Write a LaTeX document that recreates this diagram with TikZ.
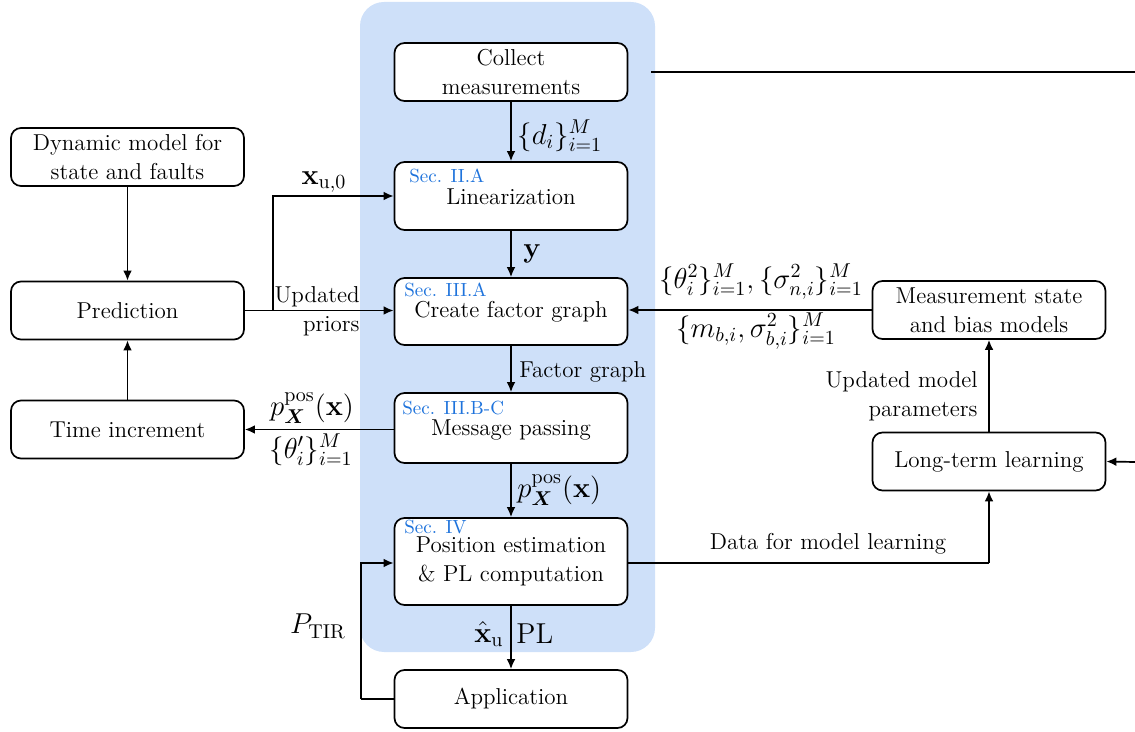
\documentclass[tikz,border=0pt]{standalone}
\usepackage{amsmath}
\usetikzlibrary{arrows.meta,calc}
\definecolor{panel}{RGB}{206,224,249}
\definecolor{secblue}{RGB}{30,115,220}
\begin{document}
\begin{tikzpicture}[x=0.5pt,y=-0.5pt,
  box/.style={draw, rounded corners=5pt, fill=white, minimum width=116.5pt, minimum height=29pt, align=center, line width=0.85pt, inner sep=1pt, font=\fontsize{11.5}{14.5}\selectfont},
  sec/.style={anchor=west, text=secblue, inner sep=0pt, font=\fontsize{9.5}{10}\selectfont},
  lbl/.style={inner sep=1pt, font=\fontsize{11.5}{14.5}\selectfont},
  mlbl/.style={inner sep=0.5pt, font=\fontsize{14}{16}\selectfont},
  arr/.style={line width=0.85pt, -{Latex[length=5pt,width=4.4pt]}},
  ln/.style={line width=0.85pt}]
\useasboundingbox (0,0) rectangle (1135,732);
\fill[panel, rounded corners=12pt] (360,2) rectangle (655,652);

% centre column
\node[box] (col) at (511,72) {Collect\\measurements};
\node[box, minimum height=34pt] (lin) at (511,196) {\\[-6pt]Linearization};
\node[box, minimum height=33.5pt] (cfg) at (511,311.5) {\\[-6pt]Create factor graph};
\node[box, minimum height=35pt] (mp) at (511,428) {\\[-5pt]Message passing};
\node[box, minimum height=43.5pt] (pe) at (511,561.5) {Position estimation\\\& PL computation};
\node[box] (app) at (511,699) {Application};

\node[sec] (s1) at (409,176) {Sec. II.A};
\node[sec] (s2) at (404,290) {Sec. III.A};
\node[sec] (s3) at (402,408) {Sec. III.B-C};
\node[sec] (s4) at (404,527) {Sec. IV};

% left column
\node[box] (dyn) at (127.5,157) {Dynamic model for\\state and faults};
\node[box] (pred) at (127.5,310.5) {Prediction};
\node[box] (time) at (127.5,429.5) {Time increment};

% right column
\node[box] (meas) at (989,310) {Measurement state\\and bias models};
\node[box] (ltl) at (989,461.5) {Long-term learning};

% vertical flow
\draw[arr] (col) -- (lin);
\draw[arr] (lin) -- (cfg);
\draw[arr] (cfg) -- (mp);
\draw[arr] (mp) -- (pe);
\draw[arr] (pe) -- (app);
\node[mlbl, anchor=west] (l1) at (516,136) {$\{d_i\}_{i=1}^{M}$};
\node[mlbl, anchor=west] (l2) at (522,254) {$\mathbf{y}$};
\node[lbl, anchor=west] (l3) at (517,372) {Factor graph};
\node[mlbl, anchor=west] (l4) at (516,490) {$p_{\boldsymbol{X}}^{\mathrm{pos}}(\mathbf{x})$};
\node[mlbl, anchor=east] (l5) at (505,634) {$\hat{\mathbf{x}}_{\mathrm{u}}$};
\node[mlbl, anchor=west] (l6) at (515,634) {$\mathrm{PL}$};

% left side connections
\draw[arr] (dyn) -- (pred);
\draw[arr] (time) -- (pred);
\draw[arr] (pred.east) -- (cfg.west |- pred.east);
\coordinate (br) at (273,310.5);
\draw[arr] (br) |- (lin.west);
\node[mlbl] (l7) at (324,182) {$\mathbf{x}_{\mathrm{u},0}$};
\node[lbl, align=right, anchor=east] (l8) at (362,311) {Updated\\priors};
\draw[arr] (mp.west |- time.east) -- (time.east);
\node[mlbl] (l9) at (312,408) {$p_{\boldsymbol{X}}^{\mathrm{pos}}(\mathbf{x})$};
\node[mlbl] (l10) at (311,450) {$\{\theta_i'\}_{i=1}^{M}$};

% application feedback
\coordinate (fb) at (361,699);
\draw[ln] (app.west) -- (fb);
\draw[arr] (fb) |- ($(pe.west)+(0,1.5)$);
\node[mlbl] (l11) at (318,626) {$P_{\mathrm{TIR}}$};

% right side connections
\draw[arr] (meas.west) -- (cfg.east |- meas.west);
\node[mlbl] (l12) at (761,282) {$\{\theta_i^2\}_{i=1}^{M},\{\sigma_{n,i}^2\}_{i=1}^{M}$};
\node[mlbl] (l13) at (756,331) {$\{m_{b,i},\sigma_{b,i}^2\}_{i=1}^{M}$};
\draw[arr] (ltl) -- (meas);
\node[lbl, align=right, anchor=east] (l14) at (980,396) {Updated model\\parameters};
\coordinate (dl) at (989,563);
\draw[ln] ($(pe.east)+(0,1.5)$) -- (dl);
\draw[arr] (dl) -- (ltl.south);
\node[lbl] (l15) at (828,544) {Data for model learning};

% open ends at the right border
\coordinate (c1) at (651,72);
\coordinate (c2) at (1135,72);
\draw[ln] (c1) -- (c2);
\coordinate (r1) at (1135,462);
\draw[arr] (r1) -- (ltl.east);
\end{tikzpicture}
\end{document}
